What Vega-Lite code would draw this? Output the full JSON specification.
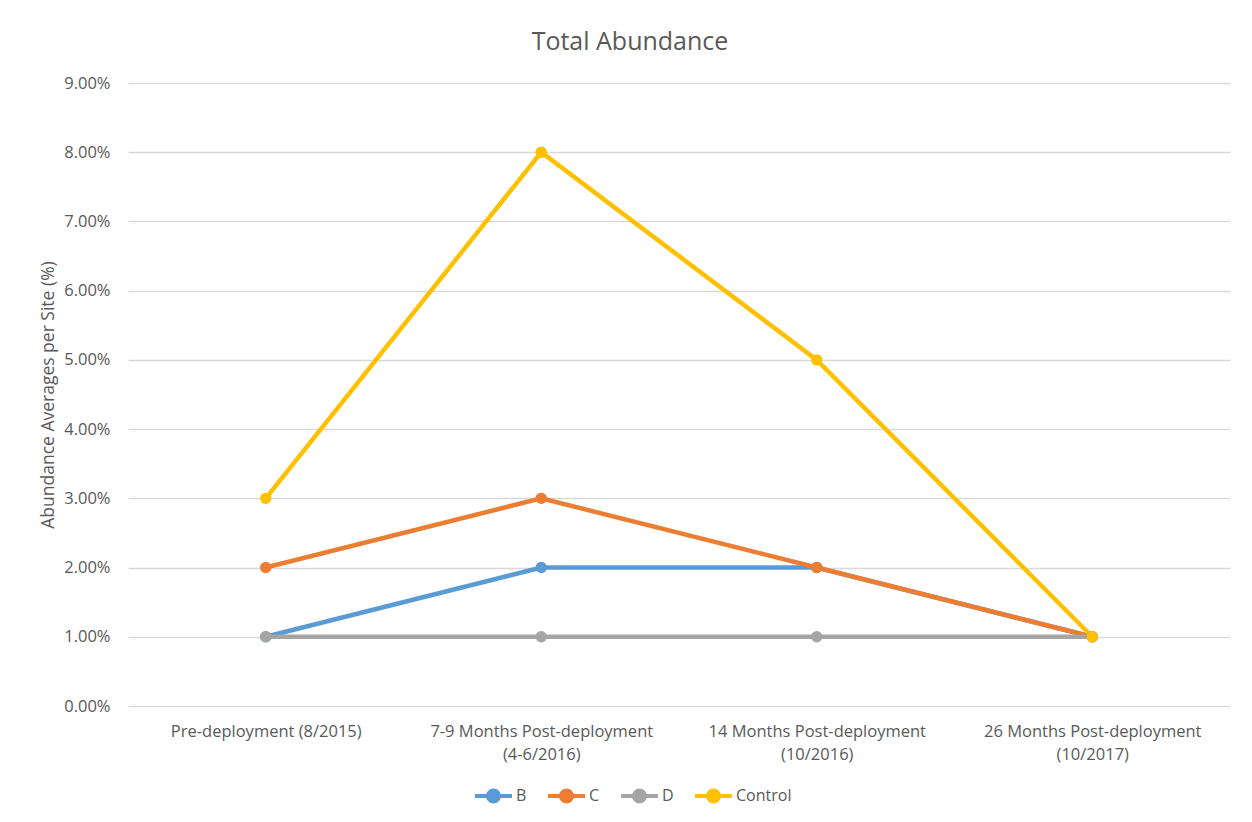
{
  "$schema": "https://vega.github.io/schema/vega-lite/v6.json",
  "width": 1102,
  "height": 623,
  "autosize": "none",
  "padding": {"left": 128, "top": 83, "right": 22, "bottom": 116},
  "background": "white",
  "title": {
    "text": "Total Abundance",
    "fontSize": 25,
    "font": "Open Sans",
    "fontWeight": "normal",
    "color": "#595959",
    "offset": 20,
    "dx": -49
  },
  "data": {
    "values": [
      {"period": "Pre-deployment (8/2015)", "site": "B", "abundance": 0.01},
      {"period": "7-9 Months Post-deployment (4-6/2016)", "site": "B", "abundance": 0.02},
      {"period": "14 Months Post-deployment (10/2016)", "site": "B", "abundance": 0.02},
      {"period": "26 Months Post-deployment (10/2017)", "site": "B", "abundance": 0.01},
      {"period": "Pre-deployment (8/2015)", "site": "C", "abundance": 0.02},
      {"period": "7-9 Months Post-deployment (4-6/2016)", "site": "C", "abundance": 0.03},
      {"period": "14 Months Post-deployment (10/2016)", "site": "C", "abundance": 0.02},
      {"period": "26 Months Post-deployment (10/2017)", "site": "C", "abundance": 0.01},
      {"period": "Pre-deployment (8/2015)", "site": "D", "abundance": 0.01},
      {"period": "7-9 Months Post-deployment (4-6/2016)", "site": "D", "abundance": 0.01},
      {"period": "14 Months Post-deployment (10/2016)", "site": "D", "abundance": 0.01},
      {"period": "26 Months Post-deployment (10/2017)", "site": "D", "abundance": 0.01},
      {"period": "Pre-deployment (8/2015)", "site": "Control", "abundance": 0.03},
      {"period": "7-9 Months Post-deployment (4-6/2016)", "site": "Control", "abundance": 0.08},
      {"period": "14 Months Post-deployment (10/2016)", "site": "Control", "abundance": 0.05},
      {"period": "26 Months Post-deployment (10/2017)", "site": "Control", "abundance": 0.01}
    ]
  },
  "encoding": {
    "x": {
      "field": "period",
      "type": "nominal",
      "sort": [
        "Pre-deployment (8/2015)",
        "7-9 Months Post-deployment (4-6/2016)",
        "14 Months Post-deployment (10/2016)",
        "26 Months Post-deployment (10/2017)"
      ],
      "scale": {"type": "point", "padding": 0.5},
      "axis": {
        "title": null,
        "labelAngle": 0,
        "labelPadding": 17,
        "labelLineHeight": 23,
        "labelLimit": 320,
        "labelExpr": "datum.label == 'Pre-deployment (8/2015)' ? datum.label : split(replace(datum.label, ' (', '\\n('), '\\n')",
        "ticks": false,
        "domain": false,
        "grid": false
      }
    },
    "y": {
      "field": "abundance",
      "type": "quantitative",
      "scale": {"domain": [0, 0.09], "nice": false},
      "axis": {
        "title": "Abundance Averages per Site (%)",
        "format": ".2%",
        "values": [0, 0.01, 0.02, 0.03, 0.04, 0.05, 0.06, 0.07, 0.08, 0.09],
        "labelPadding": 18,
        "titlePadding": 6,
        "ticks": false,
        "domain": false,
        "grid": true
      }
    },
    "color": {
      "field": "site",
      "type": "nominal",
      "sort": ["B", "C", "D", "Control"],
      "scale": {
        "domain": ["B", "C", "D", "Control"],
        "range": ["#5B9BD5", "#ED7D31", "#A5A5A5", "#FFC000"]
      },
      "legend": {
        "title": null,
        "orient": "none",
        "direction": "horizontal",
        "legendX": 345,
        "legendY": 692,
        "symbolType": "M-1,0H1M-0.3,0A0.3,0.3 0 1,0 0.3,0A0.3,0.3 0 1,0 -0.3,0",
        "symbolSize": 1369,
        "symbolStrokeWidth": 4,
        "labelOffset": 2,
        "columnPadding": 13
      }
    }
  },
  "layer": [
    {
      "mark": {"type": "line", "strokeWidth": 4.5}
    },
    {
      "mark": {"type": "point", "filled": true, "size": 130, "opacity": 1}
    }
  ],
  "config": {
    "font": "Open Sans",
    "view": {"stroke": null},
    "axis": {
      "labelFont": "Open Sans",
      "labelFontSize": 16.5,
      "labelColor": "#595959",
      "titleFont": "Open Sans",
      "titleFontSize": 17.5,
      "titleFontWeight": "normal",
      "titleColor": "#595959",
      "gridColor": "#D9D9D9",
      "gridWidth": 1.3
    },
    "legend": {
      "labelFont": "Open Sans",
      "labelFontSize": 16,
      "labelColor": "#595959"
    }
  }
}
